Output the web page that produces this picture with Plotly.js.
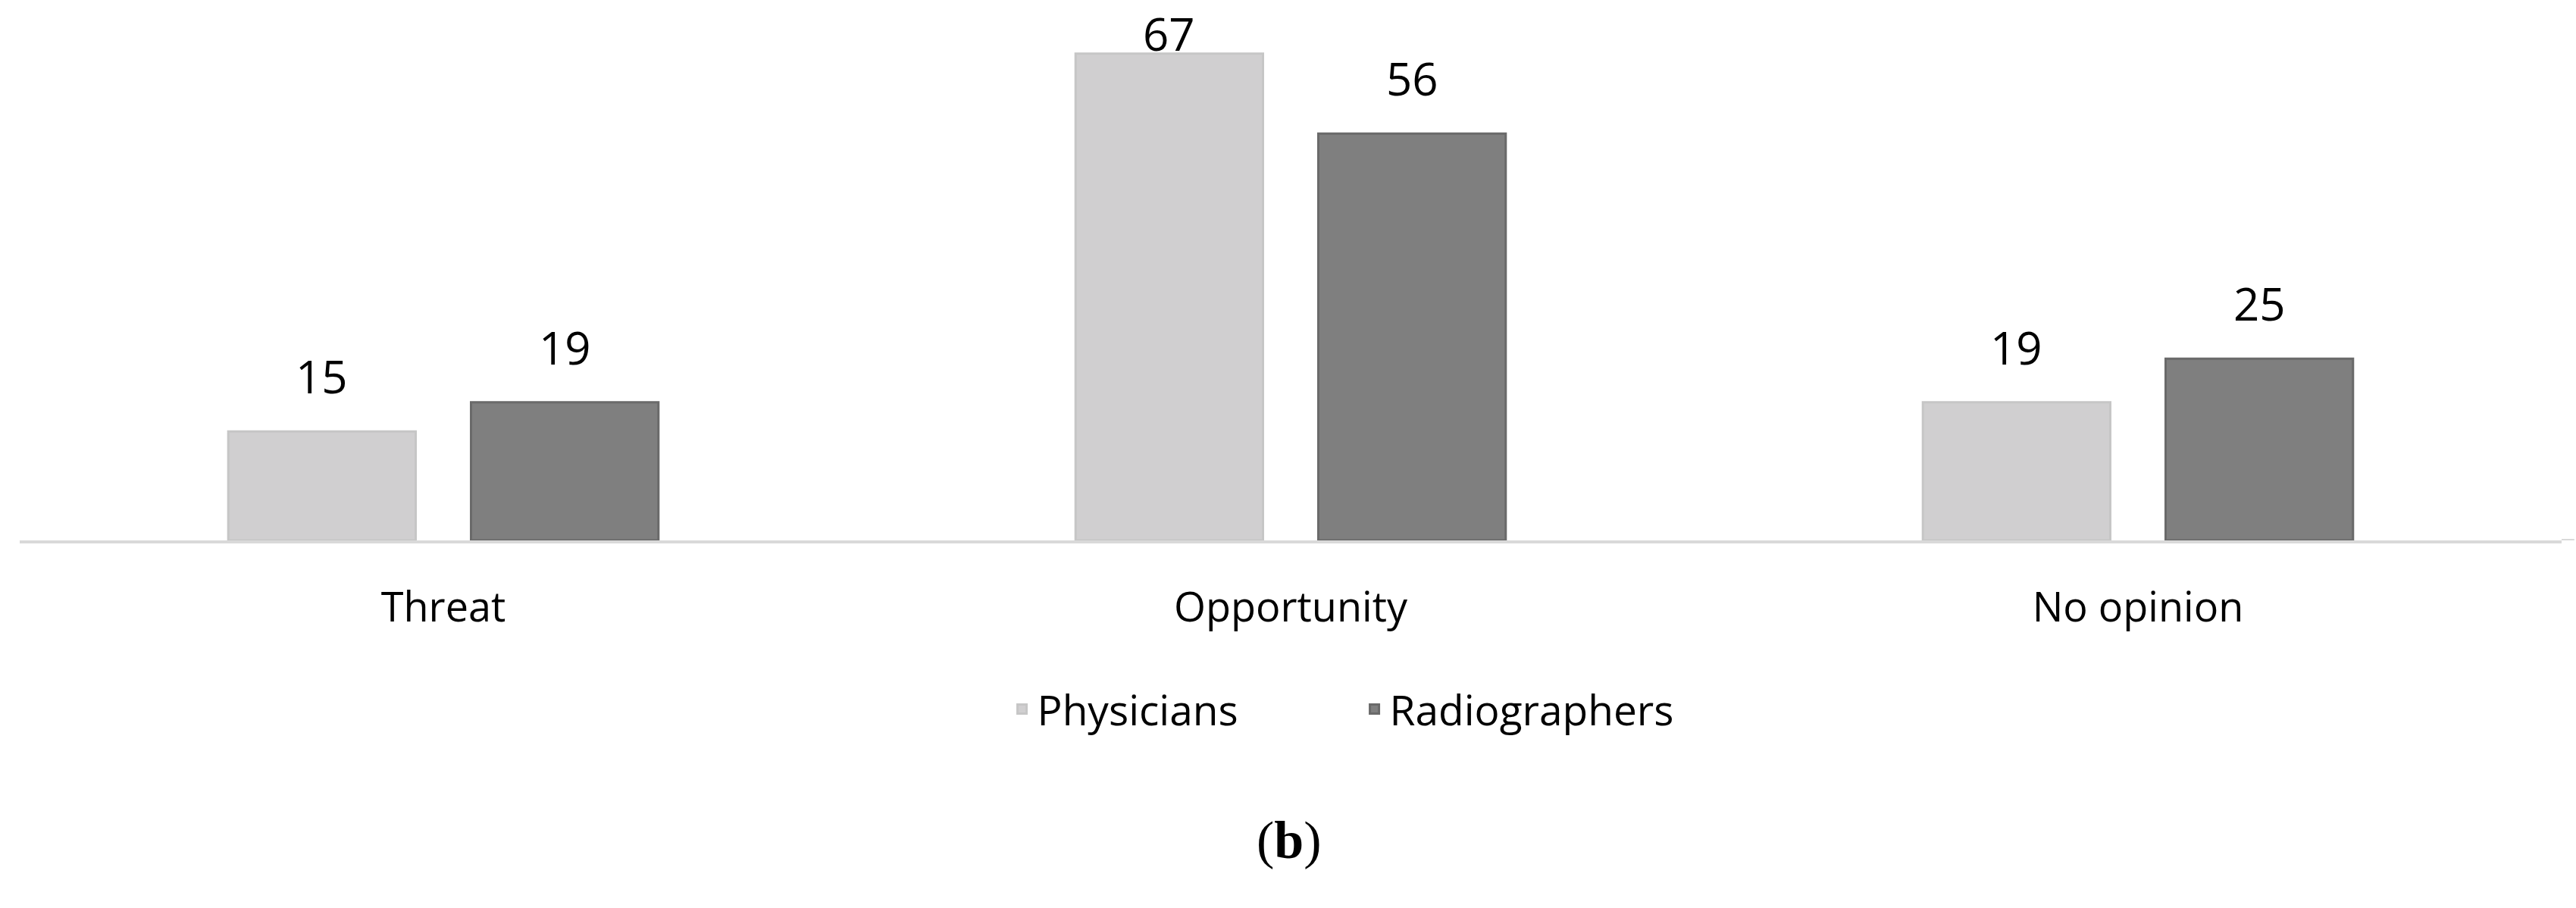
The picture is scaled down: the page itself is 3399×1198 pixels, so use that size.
<!DOCTYPE html>
<html>
<head>
<meta charset="utf-8">
<script src="https://cdn.plot.ly/plotly-3.0.1.min.js"></script>
<style>
  html, body { margin: 0; padding: 0; background: #fff; }
  #chart { width: 3399px; height: 1198px; }
</style>
</head>
<body>
<div id="chart"></div>
<script>
// Threat / opportunity survey answers (%)
const categories = ['Threat', 'Opportunity', 'No opinion'];
const seriesNames = ['Physicians', 'Radiographers'];
const physicians = [15, 67, 19];
const radiographers = [19, 56, 25];

const colors = ['#d0cfd0', '#7f7f7f'];
const borders = ['#c6c6c6', '#6a6a6a'];
const FONT = '"Open Sans", "DejaVu Sans", sans-serif';

const H = 1198, MT = 42, MB = 485;
const YMAX = 70;
const BARGAP = 0.427;
const slot = (1 - BARGAP) / 4;  // offset of each bar centre from category centre
const pxPerUnit = (H - MT - MB) / YMAX;

const traces = [physicians, radiographers].map((vals, i) => ({
  x: categories,
  y: vals,
  name: seriesNames[i],
  type: 'bar',
  marker: { color: colors[i], line: { color: borders[i], width: 3 } },
  hoverinfo: 'skip',
}));

// value labels above bars; nudged down when they'd run off the top
const LABEL_SIZE = 60;
const annotations = [];
[physicians, radiographers].forEach((vals, i) => {
  vals.forEach((v, j) => {
    const barTop = MT + (YMAX - v) * pxPerUnit;
    const room = barTop - LABEL_SIZE * 1.35 - 6;
    annotations.push({
      x: j + (i === 0 ? -slot : slot),
      y: v,
      xref: 'x', yref: 'y',
      text: String(v),
      showarrow: false,
      yanchor: 'bottom',
      yshift: Math.max(-20, Math.min(30, room)),
      font: { family: FONT, size: LABEL_SIZE, color: '#000' },
    });
  });
});

// figure caption
annotations.push({
  x: 0.4994, y: -0.65, xref: 'paper', yref: 'paper',
  text: '(<b>b</b>)', showarrow: false,
  font: { family: '"Liberation Serif", "Times New Roman", serif', size: 70, color: '#000' },
});

const layout = {
  width: 3399,
  height: H,
  margin: { l: 26, r: 19, t: MT, b: MB },
  paper_bgcolor: '#fff',
  plot_bgcolor: '#fff',
  barmode: 'group',
  bargap: BARGAP,
  bargroupgap: 0.228,
  font: { family: FONT, color: '#000' },
  xaxis: {
    type: 'category',
    showline: true, linecolor: '#d9d9d9', linewidth: 4,
    ticks: '', showgrid: false, zeroline: false,
    tickfont: { family: FONT, size: 54, color: '#000' },
    ticklabelstandoff: 38,
  },
  yaxis: {
    range: [0, YMAX], visible: false, showgrid: false, zeroline: false,
  },
  shapes: [{
    type: 'line', xref: 'paper', yref: 'y',
    x0: 1, x1: 1.005, y0: 0, y1: 0,
    line: { color: '#d9d9d9', width: 4 },
  }],
  showlegend: true,
  legend: {
    orientation: 'h',
    x: 0.527, xanchor: 'center',
    y: -0.332, yanchor: 'middle',
    font: { family: FONT, size: 55, color: '#000' },
    itemwidth: 30,
    entrywidth: 420,
    traceorder: 'normal',
  },
  annotations: annotations,
};

Plotly.newPlot('chart', traces, layout, { displayModeBar: false, staticPlot: true });
</script>
</body>
</html>
